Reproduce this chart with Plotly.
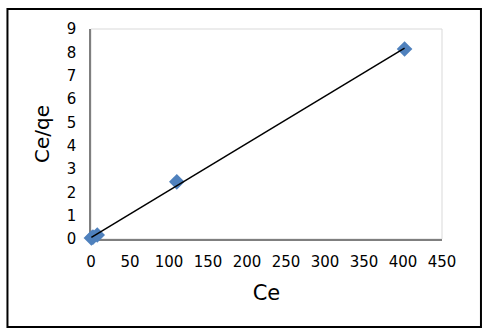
import numpy as np
import plotly.graph_objects as go

ce = [0.5, 2.5, 8.0, 110.0, 402.0]
ce_qe = [0.04, 0.08, 0.17, 2.45, 8.14]
x_ticks = [0, 50, 100, 150, 200, 250, 300, 350, 400, 450]
y_ticks = [0, 1, 2, 3, 4, 5, 6, 7, 8, 9]

slope, intercept = np.polyfit(ce, ce_qe, 1)
fit_x = [min(ce), max(ce)]
fit_y = [slope * v + intercept for v in fit_x]

fig = go.Figure()
fig.add_trace(go.Scatter(x=ce, y=ce_qe, mode="markers", cliponaxis=False,
                         marker=dict(symbol="diamond", size=12, color="#4f81bd"),
                         showlegend=False))
fig.add_trace(go.Scatter(x=fit_x, y=fit_y, mode="lines", cliponaxis=False,
                         line=dict(color="black", width=1.5), showlegend=False))

font = "DejaVu Sans, Arial, sans-serif"
fig.update_layout(
    width=485, height=333,
    margin=dict(l=91, r=43, t=29, b=94),
    paper_bgcolor="white", plot_bgcolor="white",
    font=dict(family=font, color="black"),
    xaxis=dict(range=[0, 450], tickvals=x_ticks, showgrid=False, zeroline=False,
               showline=True, linecolor="#7f7f7f", linewidth=1.5, layer="below traces",
               tickfont=dict(size=15), ticklabelstandoff=8,
               title=dict(text="Ce", font=dict(size=21), standoff=16)),
    yaxis=dict(range=[0, 9], tickvals=y_ticks, showgrid=False, zeroline=False,
               showline=True, linecolor="#7f7f7f", linewidth=1.5, layer="below traces",
               tickfont=dict(size=15), ticklabelstandoff=10,
               title=dict(text="Ce/qe", font=dict(size=20), standoff=12)),
    shapes=[
        dict(type="rect", xref="paper", yref="paper", x0=0, x1=1, y0=0, y1=1,
             line=dict(color="#d9d9d9", width=1), layer="below"),
        dict(type="rect", xref="paper", yref="paper", x0=-0.238, x1=1.111,
             y0=-0.419, y1=1.095, line=dict(color="black", width=2)),
    ],
)
fig.write_html("out.html", config={"displayModeBar": False},
               post_script="document.body.style.margin='0';")
